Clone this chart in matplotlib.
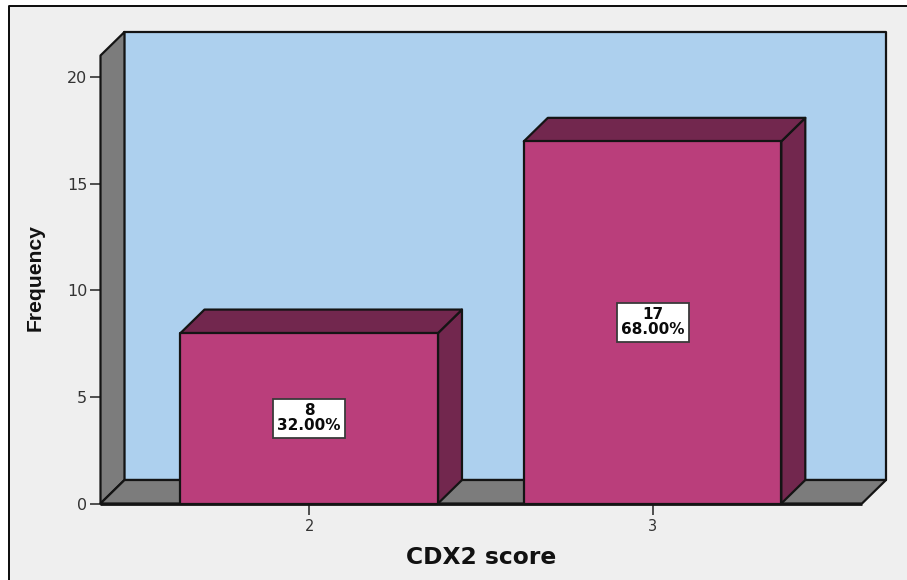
import matplotlib
matplotlib.use("Agg")
import matplotlib.pyplot as plt
from matplotlib.lines import Line2D
from matplotlib.patches import Polygon, Rectangle

categories = ["2", "3"]
positions = [2, 3]
frequencies = [8, 17]
percents = ["32.00%", "68.00%"]
y_ticks = [0, 5, 10, 15, 20]

W, H = 907, 580
PAGE = "#EFEFEF"
WALL = "#ADD0EE"
FLOOR = "#7C7C7C"
BAR = "#BA3E7B"
BAR_DARK = "#72274E"
EDGE = "#141414"
LW = 1.6

fig = plt.figure(figsize=(W / 100, H / 100), dpi=100, facecolor="white")
# page panel runs off the right and bottom edges; only top and left carry a rule
px, py = 8.5 / W, 1 - 5.5 / H
fig.add_artist(Rectangle((px, 0), 1 - px, py, transform=fig.transFigure,
                         facecolor=PAGE, edgecolor="none", zorder=-2))
fig.add_artist(Line2D([px, px, 1], [0, py, py], transform=fig.transFigure,
                      color="#0A0A0A", lw=1.4, zorder=-1))

left, right, base, top = 100.5, 862, 503.5, 55.5
ax = fig.add_axes([left / W, 1 - base / H, (right - left) / W, (base - top) / H])
ax.patch.set_alpha(0)
ax.set_xlim(1.392, 3.61)
ax.set_ylim(0, 21.03)
for s in ax.spines.values():
    s.set_visible(False)

# depth of the pseudo-3D box, in data units
dx = 24 / 343.5
dy = 23.5 / 21.3
x0, x1 = ax.get_xlim()
y0, y1 = ax.get_ylim()


def poly(pts, fc, z):
    ax.add_patch(Polygon(pts, closed=True, facecolor=fc, edgecolor=EDGE, lw=LW,
                         joinstyle="round", zorder=z, clip_on=False))


# back wall, side wall, floor
poly([(x0 + dx, y0 + dy), (x1 + dx, y0 + dy), (x1 + dx, y1 + dy), (x0 + dx, y1 + dy)], WALL, 1)
poly([(x0, y0), (x0 + dx, y0 + dy), (x0 + dx, y1 + dy), (x0, y1)], FLOOR, 2)
poly([(x0, y0), (x1, y0), (x1 + dx, y0 + dy), (x0 + dx, y0 + dy)], FLOOR, 2)

# bars with top and side faces
bar_w = 0.75
for pos, val, pct in zip(positions, frequencies, percents):
    a, b = pos - bar_w / 2, pos + bar_w / 2
    poly([(b, 0), (b + dx, dy), (b + dx, val + dy), (b, val)], BAR_DARK, 3)
    poly([(a, val), (b, val), (b + dx, val + dy), (a + dx, val + dy)], BAR_DARK, 3)
    poly([(a, 0), (b, 0), (b, val), (a, val)], BAR, 4)
    ax.text(pos, val / 2, f"{val}\n{pct}", ha="center", va="center", fontsize=11,
            fontweight="bold", family="DejaVu Sans", color="#0A0A0A", linespacing=1.0, zorder=6,
            bbox=dict(boxstyle="square,pad=0.28", fc="white", ec="#3A3A3A", lw=1.3))

ax.plot([x0, x1], [0, 0], color=EDGE, lw=2, zorder=5, clip_on=False, solid_capstyle="butt")

ax.set_xticks(positions)
ax.set_xticklabels(categories)
ax.set_yticks(y_ticks)
ax.tick_params(axis="x", length=8, width=1.2, color="#333333", pad=3, labelsize=10.5, labelcolor="#333333")
ax.tick_params(axis="y", length=8, width=1.2, color="#333333", pad=1.5, labelsize=11.5, labelcolor="#333333")
for t in ax.get_xticklabels() + ax.get_yticklabels():
    t.set_family("DejaVu Sans")

fig.text(481 / W, 1 - 557 / H, "CDX2 score", ha="center", va="center", fontsize=16.8,
         fontweight="bold", family="DejaVu Sans", color="#111111")
fig.text(35 / W, 1 - 278 / H, "Frequency", ha="center", va="center", rotation=90, fontsize=15.2,
         fontweight="bold", family="Liberation Sans", color="#111111")

fig.savefig("out.png", dpi=100, facecolor="white")
